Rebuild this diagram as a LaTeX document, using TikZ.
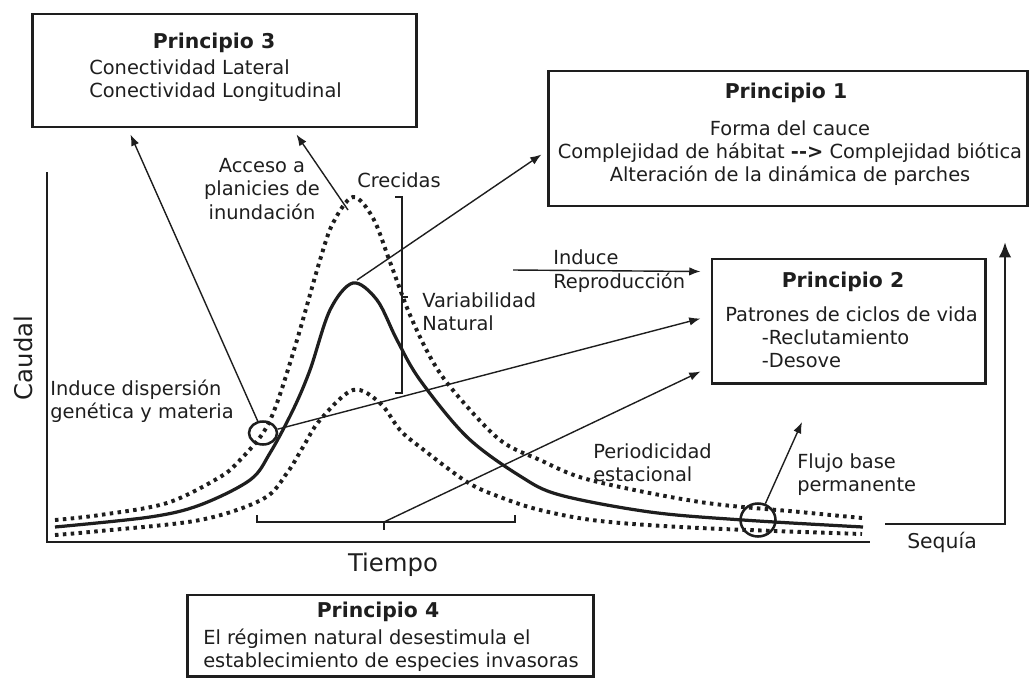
\documentclass[tikz,border=0pt]{standalone}
\usepackage{fontspec}
\setmainfont{DejaVu Sans}
\usepackage{tikz}
\usetikzlibrary{arrows.meta, positioning, calc, shapes.geometric}
\definecolor{tinta}{HTML}{1E1E1E}
\tikzset{
  caja/.style={draw=tinta, line width=2.1pt, inner sep=0pt},
  titulo/.style={font=\fontsize{14.5}{17}\selectfont\bfseries, text=tinta, inner sep=0pt},
  texto/.style={font=\fontsize{13.8}{16.4}\selectfont, text=tinta, inner sep=0pt},
  eje/.style={font=\fontsize{17.3}{20}\selectfont, text=tinta, inner sep=0pt},
  flecha/.style={-{Latex[length=8pt,width=6pt]}, line width=1pt, draw=tinta},
  linea/.style={line width=1.3pt, draw=tinta},
  continuo/.style={line width=2.3pt, draw=tinta},
  punteado/.style={line width=2.8pt, draw=tinta, dash pattern=on 2.5pt off 3.1pt},
  marca/.style={draw=tinta, line width=1.8pt, ellipse, inner sep=0pt}
}

\begin{document}
\begin{tikzpicture}[x=0.025cm, y=-0.025cm]
    \useasboundingbox (0,0) rectangle (1030,678);

    % Principle boxes
    \node[caja, minimum width=9.575cm, minimum height=2.825cm] (p3) at (224.5,70.5) {};
    \node[caja, minimum width=11.95cm, minimum height=3.375cm] (p1) at (788,138.5) {};
    \node[caja, minimum width=6.825cm, minimum height=3.1cm] (p2) at (848.5,321) {};
    \node[caja, minimum width=10.125cm, minimum height=2.025cm] (p4) at (390.5,635.5) {};

    \node[titulo] (p3tit) at (214,43) {Principio 3};
    \node[texto, anchor=west, align=left] (p3txt) at (89,80.5) {Conectividad Lateral\\Conectividad Longitudinal};

    \node[titulo] (p1tit) at (786,93) {Principio 1};
    \node[texto, align=center] (p1txt) at (790,153.5) {Forma del cauce\\Complejidad de hábitat \textbf{-{}->} Complejidad biótica\\Alteración de la dinámica de parches};

    \node[titulo] (p2tit) at (843,282) {Principio 2};
    \node[texto, anchor=west, align=left] (p2txt) at (725,337.5) {Patrones de ciclos de vida\\\hspace*{26pt}-Reclutamiento\\\hspace*{26pt}-Desove};

    \node[titulo] (p4tit) at (378,612) {Principio 4};
    \node[texto, anchor=west, align=left] (p4txt) at (203,650) {El régimen natural desestimula el\\establecimiento de especies invasoras};

    % Axes
    \draw[linea] (47,172) -- (47,542) -- (870,542);
    \node[eje, rotate=90] (caudal) at (23,358) {Caudal};
    \node[eje] (tiempo) at (393,565) {Tiempo};

    % Hydrographs: maximum, mean, minimum
    \draw[punteado] plot[smooth, tension=0.55] coordinates {(55,520) (100,515) (167,503) (220,477) (240,460) (263,433) (277,403) (297,340) (320,260) (333,223) (353,197) (373,218) (390,262) (410,315) (433,362) (457,395) (500,440) (540,460) (590,480) (700,502) (800,512) (862,518)};
    \draw[continuo] plot[smooth, tension=0.55] coordinates {(55,527) (150,517) (200,505) (250,480) (270,453) (293,410) (310,370) (330,310) (353,283) (377,300) (397,340) (420,380) (467,437) (520,476) (560,495) (650,512) (743,520) (863,527)};
    \draw[punteado] plot[smooth, tension=0.55] coordinates {(55,535) (100,531) (200,520) (263,499) (287,473) (303,447) (320,420) (353,390) (380,403) (400,430) (420,447) (467,482) (500,497) (540,510) (600,521) (700,528) (862,534)};

    % Marked points
    \node[marca, minimum width=0.7cm, minimum height=0.575cm] (cir1) at (263,433) {};
    \node[marca, minimum width=0.875cm, minimum height=0.825cm] (cir2) at (758,520) {};

    % Brackets
    \draw[linea] (395,197) -- (402,197) -- (402,393) -- (395,393);
    \draw[linea] (402,297) -- (408,297);
    \draw[linea] (257,515) -- (257,522) -- (515,522) -- (515,515);
    \coordinate (llave) at (384,522);
    \draw[linea] (llave) -- (384,530);

    % Labels on the graph
    \node[texto, align=center] (acceso) at (262,189) {Acceso a\\planicies de\\inundación};
    \node[texto] (crecidas) at (399,180) {Crecidas};
    \node[texto, anchor=west, align=left] (variab) at (422,312) {Variabilidad\\Natural};
    \node[texto, anchor=west, align=left] (dispers) at (50,401) {Induce dispersión\\genética y materia};
    \node[texto, anchor=west] (induce) at (553,257) {Induce};
    \node[texto, anchor=west] (reprod) at (553,283) {Reproducción};
    \node[texto, anchor=west, align=left] (period) at (593,463) {Periodicidad\\estacional};
    \node[texto, anchor=west, align=left] (flujo) at (797,475) {Flujo base\\permanente};
    \node[font=\fontsize{14.5}{17}\selectfont, text=tinta, inner sep=0pt] (sequia) at (942,542) {Sequía};

    % Connectors
    \coordinate (cresta) at (348,210);
    \coordinate (pico) at (357,280);
    \coordinate (ind) at (513,270);
    \coordinate (fb) at (802,422);
    \coordinate (sq) at (885,524);
    \coordinate (sqtop) at (1005,242);
    \draw[flecha] (cir1) -- ($(p3.south west)+(99,6)$);
    \draw[flecha] (cresta) -- ($(p3.south west)+(265,6)$);
    \draw[flecha] (pico) -- ($(p1.south west)+(-6,-53)$);
    \draw[flecha] (cir1) -- ($(p2.south west)+(-10,-66)$);
    \draw[flecha] (llave) -- ($(p2.south west)+(-10,-13)$);
    \draw[flecha] (ind) -- ($(p2.south west)+(-10,-113)$);
    \draw[flecha] (cir2) -- (fb);
    \draw[line width=1.9pt, draw=tinta, -{Latex[length=11pt,width=9pt]}] (sq) -- (sq -| sqtop) -- (sqtop);
\end{tikzpicture}
\end{document}
